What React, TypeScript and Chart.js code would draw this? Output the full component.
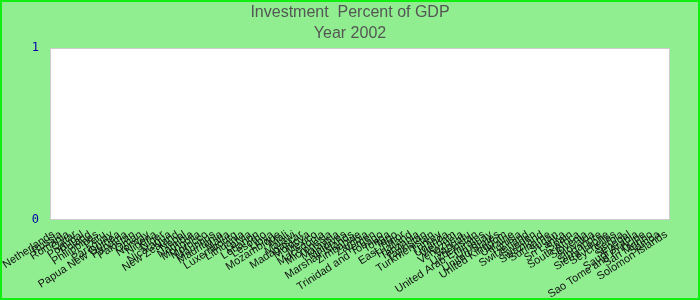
import React, { useEffect, useRef } from "react";
import { Chart, registerables } from "chart.js";

Chart.register(...registerables);

const titleLines = ["Investment  Percent of GDP", "Year 2002"];

const countries = [
  "Netherlands", "Russia", "Romania", "Qatar", "Portugal", "Poland", "Philippines", "Peru",
  "Paraguay", "Papua New Guinea", "Panama", "Pakistan", "Oman", "Norway", "Nigeria", "Niger",
  "Nicaragua", "New Zealand", "Nepal", "Namibia", "Mongolia", "Morocco", "Mauritius", "Mauritania",
  "Malta", "Luxembourg", "Lithuania", "Latvia", "Lebanon", "Lesotho", "Libya", "Mozambique",
  "Mali", "Malawi", "Madagascar", "Moldova", "Mexico", "Macedonia", "Micronesia", "Malaysia",
  "Maldives", "Marshall Islands", "Zimbabwe", "Zambia", "Yemen", "Trinidad and Tobago", "Tonga", "Togo",
  "East Timor", "Thailand", "Tanzania", "Tajikistan", "Turkmenistan", "Turkey", "Uganda", "Vietnam",
  "Venezuela", "Vanuatu", "Uzbekistan", "United Arab Emirates", "Uruguay", "United States", "United Kingdom", "Ukraine",
  "Tunisia", "Switzerland", "Sweden", "Swaziland", "Suriname", "Sudan", "Sri Lanka", "Spain",
  "South Africa", "Slovenia", "Slovakia", "Singapore", "Sierra Leone", "Seychelles", "Serbia", "Senegal",
  "Saudi Arabia", "Sao Tome and Principe", "San Marino", "Samoa", "Solomon Islands",
];

const investment = [
  0, 0, 0, 0, 0, 0, 0, 0, 0, 0, 0, 0, 0, 0, 0, 0, 0,
  0, 0, 0, 0, 0, 0, 0, 0, 0, 0, 0, 0, 0, 0, 0, 0, 0,
  0, 0, 0, 0, 0, 0, 0, 0, 0, 0, 0, 0, 0, 0, 0, 0, 0,
  0, 0, 0, 0, 0, 0, 0, 0, 0, 0, 0, 0, 0, 0, 0, 0, 0,
  0, 0, 0, 0, 0, 0, 0, 0, 0, 0, 0, 0, 0, 0, 0, 0, 0,
];

const yMin = 0;
const yMax = 1;

const framePlugin = {
  id: "frame",
  beforeDraw(chart: any) {
    const { ctx, width, height, chartArea } = chart;
    ctx.save();
    ctx.fillStyle = "#90EE90";
    ctx.fillRect(0, 0, width, height);
    ctx.strokeStyle = "#11ee11";
    ctx.lineWidth = 2;
    ctx.strokeRect(1, 1, width - 2, height - 2);
    const { left, top, right, bottom } = chartArea;
    ctx.fillStyle = "#ffffff";
    ctx.fillRect(left, top, right - left, bottom - top);
    ctx.strokeStyle = "#cccccc";
    ctx.lineWidth = 1;
    ctx.strokeRect(left + 0.5, top + 0.5, right - left - 1, bottom - top - 1);
    ctx.fillStyle = "#555555";
    ctx.font = "16px 'Liberation Sans', Arial, sans-serif";
    ctx.textAlign = "center";
    ctx.textBaseline = "middle";
    titleLines.forEach((t, i) => ctx.fillText(t, width / 2, 13 + i * 21));
    ctx.restore();
  },
};

export default function App() {
  const ref = useRef<HTMLCanvasElement | null>(null);
  useEffect(() => {
    document.body.style.margin = "0";
    const chart = new Chart(ref.current as HTMLCanvasElement, {
      type: "bar",
      data: {
        labels: countries,
        datasets: [
          {
            label: "Investment",
            data: investment,
            backgroundColor: "#3366cc",
            borderWidth: 0,
          },
        ],
      },
      plugins: [framePlugin],
      options: {
        responsive: false,
        animation: false,
        layout: { padding: { left: 0, right: 30, top: 48, bottom: 0 } },
        plugins: { legend: { display: false }, title: { display: false }, tooltip: { enabled: false } },
        scales: {
          x: {
            grid: { display: false },
            border: { display: false },
            afterFit: (s: any) => {
              s.height = 80;
              s.paddingLeft = 0;
              s.paddingRight = 0;
            },
            ticks: {
              autoSkip: false,
              minRotation: 33,
              maxRotation: 33,
              padding: 0,
              color: "#111111",
              font: { family: "'Liberation Sans', Arial, sans-serif", size: 11 },
            },
          },
          y: {
            min: yMin,
            max: yMax,
            grid: { display: false },
            border: { display: false },
            afterFit: (s: any) => {
              s.width = 50;
              s.paddingTop = 0;
              s.paddingBottom = 0;
            },
            ticks: {
              stepSize: 1,
              padding: 3,
              color: "#0000aa",
              font: { family: "'DejaVu Sans Mono', monospace", size: 12 },
            },
          },
        },
      },
    });
    return () => chart.destroy();
  }, []);
  return <canvas ref={ref} width={700} height={300} style={{ display: "block" }} />;
}
